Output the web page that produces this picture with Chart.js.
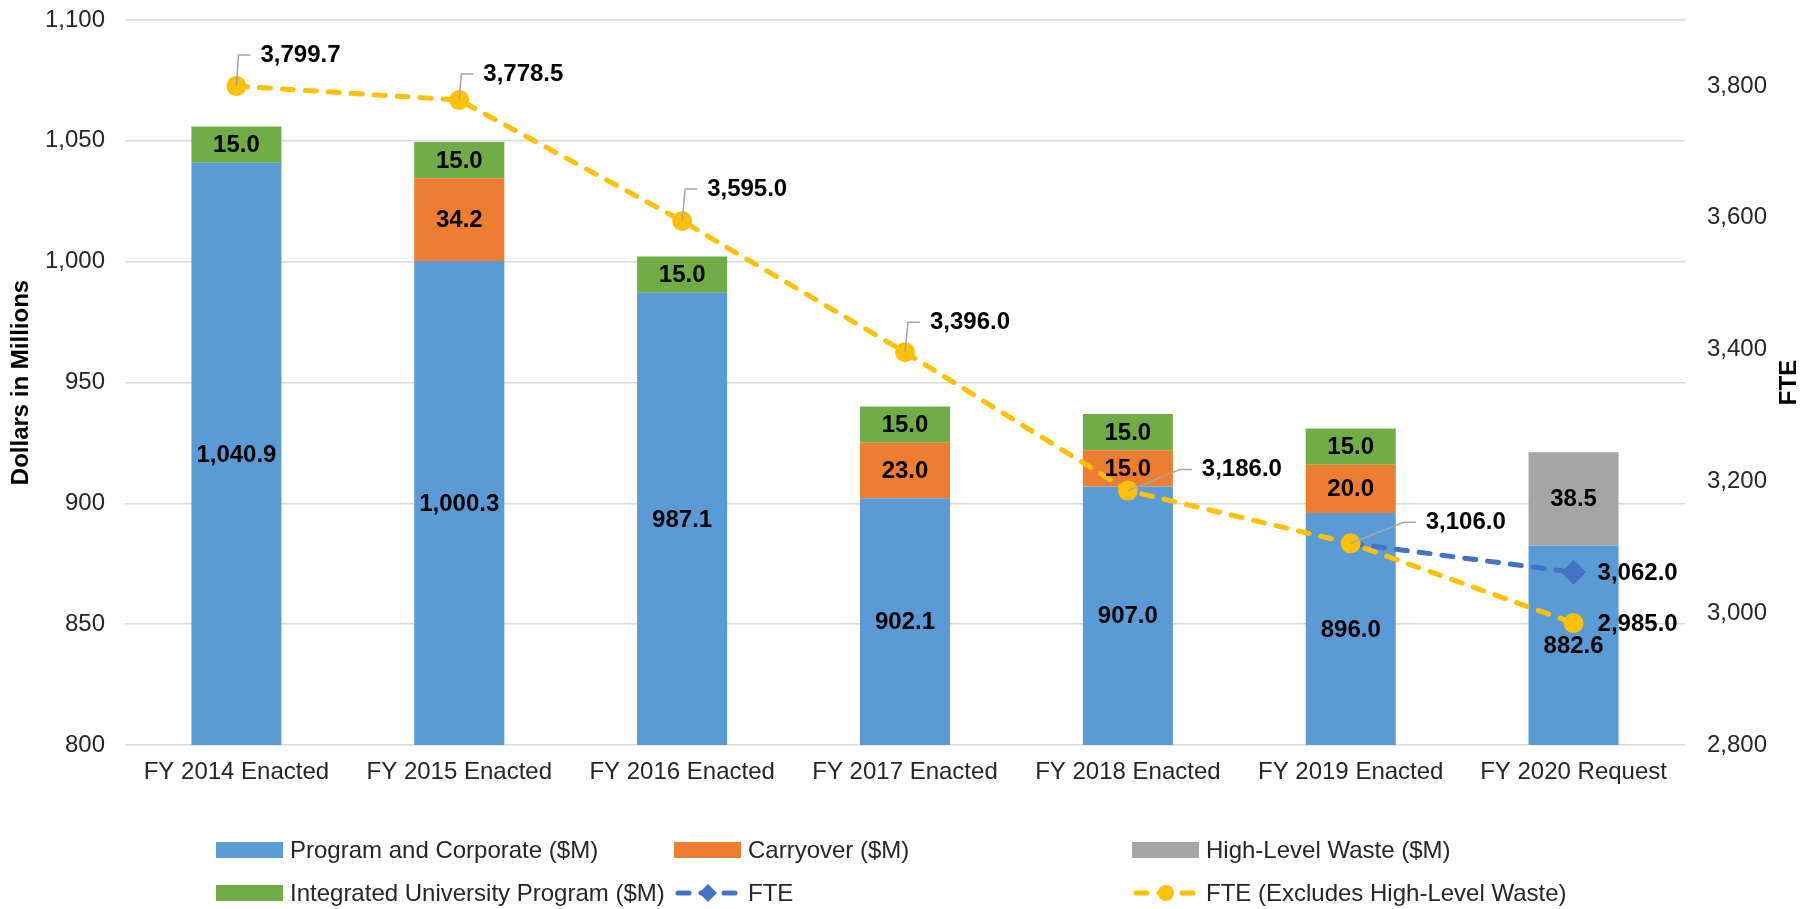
<!DOCTYPE html>
<html>
<head>
<meta charset="utf-8">
<script src="https://cdn.jsdelivr.net/npm/chart.js@4/dist/chart.umd.min.js"></script>
<style>
  html, body { margin: 0; padding: 0; background: #fff; }
  #wrap { width: 1812px; height: 909px; }
</style>
</head>
<body>
<div id="wrap"><canvas id="chart" width="1812" height="909"></canvas></div>
<script>
const categories = ['FY 2014 Enacted', 'FY 2015 Enacted', 'FY 2016 Enacted', 'FY 2017 Enacted',
  'FY 2018 Enacted', 'FY 2019 Enacted', 'FY 2020 Request']
const programCorporate = [1040.9, 1000.3, 987.1, 902.1, 907.0, 896.0, 882.6]
const carryover = [null, 34.2, null, 23.0, 15.0, 20.0, null]
const highLevelWaste = [null, null, null, null, null, null, 38.5]
const universityProgram = [15.0, 15.0, 15.0, 15.0, 15.0, 15.0, null]
const fte = [null, null, null, null, null, 3106.0, 3062.0]
const fteExclHlw = [3799.7, 3778.5, 3595.0, 3396.0, 3186.0, 3106.0, 2985.0]
const dollarRange = [800, 1100, 50]
const fteRange = [2800, 3900, 200]

const FONT = "'Liberation Sans', Arial, sans-serif"
const TEXT = '#262626'
const BLUE = '#5B9BD5', ORANGE = '#ED7D31', GREY = '#A5A5A5', GREEN = '#70AD47'
const LINE_BLUE = '#4472C4', YELLOW = '#FFC000'

const fmt = v => v.toLocaleString('en-US', { minimumFractionDigits: 1, maximumFractionDigits: 1 })

// where the line value labels sit relative to their point (dx, dy, leader line)
const yellowLabelPos = [[24, -31, true], [24, -26, true], [25, -32, true], [25, -30, true],
  [74, -21, true], [75, -21, true], [24, 1, false]]
const blueLabelPos = [null, null, null, null, null, null, [24, 1, false]]

const legendItems = [
  { text: 'Program and Corporate ($M)', kind: 'box', color: BLUE },
  { text: 'Carryover ($M)', kind: 'box', color: ORANGE },
  { text: 'High-Level Waste ($M)', kind: 'box', color: GREY },
  { text: 'Integrated University Program ($M)', kind: 'box', color: GREEN },
  { text: 'FTE', kind: 'line', color: LINE_BLUE, marker: 'diamond' },
  { text: 'FTE (Excludes High-Level Waste)', kind: 'line', color: YELLOW, marker: 'circle' }
]

const labelPlugin = {
  id: 'valueLabels',
  afterDatasetsDraw(chart) {
    const { ctx, chartArea } = chart
    ctx.save()
    ctx.font = 'bold 24px ' + FONT
    ctx.fillStyle = '#000'
    ctx.textBaseline = 'middle'
    chart.data.datasets.forEach((ds, i) => {
      const meta = chart.getDatasetMeta(i)
      if (ds.type === 'line') return
      ctx.textAlign = 'center'
      meta.data.forEach((bar, j) => {
        const v = ds.data[j]
        if (v == null) return
        const top = Math.max(bar.y, chartArea.top)
        const bottom = Math.min(bar.base, chartArea.bottom)
        ctx.fillText(fmt(v), bar.x, (top + bottom) / 2 + 1)
      })
    })
    chart.data.datasets.forEach((ds, i) => {
      if (ds.type !== 'line') return
      const meta = chart.getDatasetMeta(i)
      const pos = ds.labelPos
      meta.data.forEach((pt, j) => {
        const v = ds.data[j]
        if (v == null || !pos[j]) return
        const [dx, dy, leader] = pos[j]
        const lx = pt.x + dx, ly = pt.y + dy
        if (leader) {
          ctx.strokeStyle = '#A6A6A6'
          ctx.lineWidth = 1.5
          ctx.beginPath()
          ctx.moveTo(pt.x, pt.y)
          ctx.lineTo(lx - 22, ly)
          ctx.lineTo(lx - 10, ly)
          ctx.stroke()
        }
        ctx.textAlign = 'left'
        ctx.fillText(fmt(v), lx, ly)
      })
    })
    ctx.restore()
  },
  afterDraw(chart) {
    const { ctx, chartArea } = chart
    ctx.save()
    // right axis title
    ctx.font = 'bold 24px ' + FONT
    ctx.fillStyle = '#000'
    ctx.textAlign = 'center'
    ctx.textBaseline = 'middle'
    ctx.translate(1789, (chartArea.top + chartArea.bottom) / 2)
    ctx.rotate(-Math.PI / 2)
    ctx.fillText('FTE', 0, 0)
    ctx.restore()

    // legend
    ctx.save()
    ctx.font = '24px ' + FONT
    ctx.textBaseline = 'middle'
    ctx.textAlign = 'left'
    const colX = [216, 674, 1132], rowY = [850, 893]
    legendItems.forEach((it, k) => {
      const x = colX[k % 3], y = rowY[Math.floor(k / 3)]
      if (it.kind === 'box') {
        ctx.fillStyle = it.color
        ctx.fillRect(x, y - 8, 67, 16)
      } else {
        ctx.strokeStyle = it.color
        ctx.lineWidth = 5
        ctx.lineCap = 'round'
        ctx.setLineDash([11, 12])
        ctx.beginPath()
        ctx.moveTo(x + 4, y)
        ctx.lineTo(x + 64, y)
        ctx.stroke()
        ctx.setLineDash([])
        ctx.fillStyle = it.color
        ctx.beginPath()
        if (it.marker === 'diamond') {
          ctx.moveTo(x + 34, y - 9); ctx.lineTo(x + 43, y); ctx.lineTo(x + 34, y + 9); ctx.lineTo(x + 25, y)
        } else {
          ctx.arc(x + 34, y, 8, 0, Math.PI * 2)
        }
        ctx.closePath()
        ctx.fill()
      }
      ctx.fillStyle = TEXT
      ctx.fillText(it.text, x + 74, y + 1)
    })
    ctx.restore()
  }
}

Chart.defaults.font.family = FONT
Chart.defaults.color = TEXT

const barBase = { type: 'bar', yAxisID: 'y', stack: 'dollars', order: 3,
  categoryPercentage: 1, barPercentage: 0.404, borderWidth: 0 }

new Chart(document.getElementById('chart').getContext('2d'), {
  data: {
    labels: categories,
    datasets: [
      { ...barBase, label: 'Program and Corporate ($M)', data: programCorporate, backgroundColor: BLUE },
      { ...barBase, label: 'Carryover ($M)', data: carryover, backgroundColor: ORANGE },
      { ...barBase, label: 'High-Level Waste ($M)', data: highLevelWaste, backgroundColor: GREY },
      { ...barBase, label: 'Integrated University Program ($M)', data: universityProgram, backgroundColor: GREEN },
      {
        type: 'line', label: 'FTE', data: fte, yAxisID: 'y2', order: 2,
        borderColor: LINE_BLUE, backgroundColor: LINE_BLUE, borderWidth: 5,
        borderDash: [11, 12], borderCapStyle: 'round', fill: false, tension: 0,
        pointStyle: 'rectRot',
        pointRadius: c => (c.dataIndex === fte.length - 1 ? 9 : 0),
        labelPos: blueLabelPos
      },
      {
        type: 'line', label: 'FTE (Excludes High-Level Waste)', data: fteExclHlw, yAxisID: 'y2', order: 1,
        borderColor: YELLOW, backgroundColor: YELLOW, borderWidth: 5,
        borderDash: [11, 12], borderCapStyle: 'round', fill: false, tension: 0,
        pointStyle: 'circle', pointRadius: 7.5,
        labelPos: yellowLabelPos
      }
    ]
  },
  options: {
    responsive: false,
    animation: false,
    layout: { padding: { top: 20, bottom: 0, left: 0, right: 0 } },
    plugins: { legend: { display: false }, tooltip: { enabled: false } },
    scales: {
      x: {
        stacked: true,
        grid: { display: false, drawTicks: false },
        border: { display: false },
        ticks: { font: { size: 24 }, color: TEXT, padding: 13, maxRotation: 0, autoSkip: false },
        afterFit: s => { s.height = 164 }
      },
      y: {
        stacked: true,
        position: 'left',
        min: dollarRange[0], max: dollarRange[1],
        grid: { color: '#D9D9D9', lineWidth: 1.5, drawTicks: false },
        border: { display: false },
        ticks: { stepSize: dollarRange[2], font: { size: 24 }, color: TEXT, padding: 20,
          callback: v => v.toLocaleString('en-US') },
        title: { display: true, text: 'Dollars in Millions', color: '#000',
          font: { size: 24, weight: 'bold' }, padding: { top: 7, bottom: 0 } },
        afterFit: s => { s.width = 125; s.paddingTop = 0; s.paddingBottom = 0 }
      },
      y2: {
        position: 'right',
        min: fteRange[0], max: fteRange[1],
        grid: { display: false, drawTicks: false },
        border: { display: false },
        ticks: { stepSize: fteRange[2], font: { size: 24 }, color: TEXT, padding: 22,
          callback: v => v.toLocaleString('en-US') },
        afterBuildTicks: s => { s.ticks = s.ticks.filter(t => t.value < fteRange[1]) },
        afterFit: s => { s.width = 127; s.paddingTop = 0; s.paddingBottom = 0 }
      }
    }
  },
  plugins: [labelPlugin]
})
</script>
</body>
</html>
